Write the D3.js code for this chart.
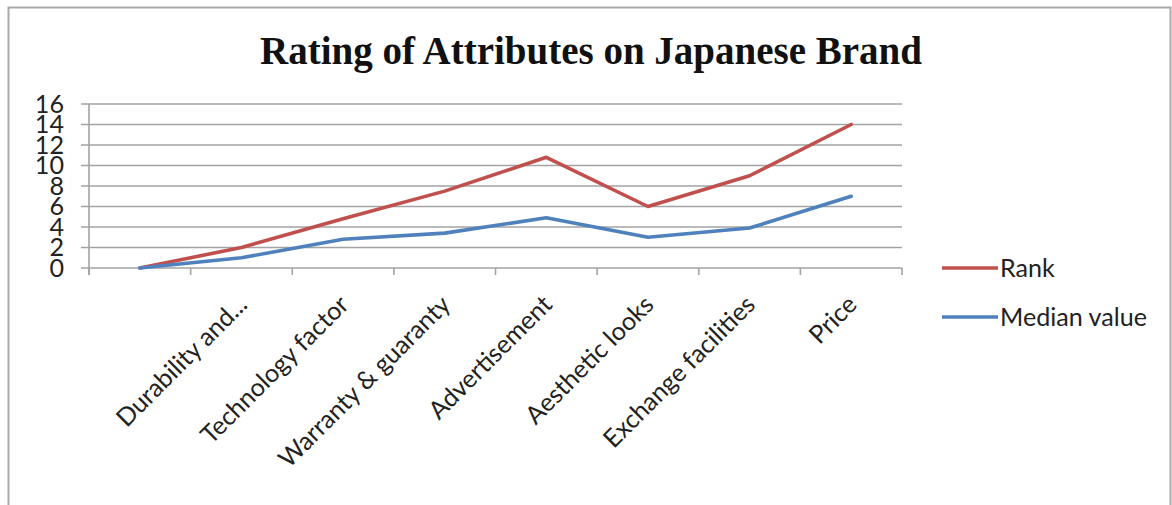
<!DOCTYPE html>
<html>
<head>
<meta charset="utf-8">
<script src="https://cdn.jsdelivr.net/npm/d3@7"></script>
<style>
    body { margin: 0; background: #fff; }
    svg { display: block; }
</style>
</head>
<body>
<svg id="vis" width="1172" height="505"></svg>
<script>
// chart data
const chartTitle = "Rating of Attributes on Japanese Brand";
const categories = ["", "Durability and...", "Technology factor", "Warranty & guaranty",
    "Advertisement", "Aesthetic looks", "Exchange facilities", "Price"];
const rankValues = [0, 2, 4.8, 7.5, 10.8, 6, 9, 14];
const medianValues = [0, 1, 2.8, 3.4, 4.9, 3, 3.9, 7];
const yTicks = [0, 2, 4, 6, 8, 10, 12, 14, 16];
const seriesNames = ["Rank", "Median value"];
const seriesColors = ["#c0504d", "#4f81bd"];

let svg = d3.select("#vis");
let width = 1172, height = 505;

let plot = {left: 89, right: 902, top: 104, bottom: 268};
let labelFont = "Lato, 'Open Sans', sans-serif";

// outer frame of the chart object
svg.append("rect")
    .attr("x", 8.5)
    .attr("y", 7.5)
    .attr("width", 1162)
    .attr("height", 520)
    .attr("fill", "#fff")
    .attr("stroke", "#a9a9a9")
    .attr("stroke-width", 2);

// title, fitted to the width it has in the picture
let title = svg.append("text")
    .attr("x", 591)
    .attr("y", 64)
    .attr("text-anchor", "middle")
    .attr("font-family", "'Liberation Serif', 'DejaVu Serif', serif")
    .attr("font-weight", "bold")
    .attr("font-size", 36)
    .attr("fill", "#111")
    .text(chartTitle);
let tw = title.node().getComputedTextLength();
title.attr("font-size", 36 * 662 / tw);

// pick a label size that matches the legend text width
let probe = svg.append("text")
    .attr("font-family", labelFont)
    .attr("font-size", 24)
    .text("Median value");
let labelSize = 24 * 147 / probe.node().getComputedTextLength();
probe.remove();

let x = d3.scaleBand()
    .domain(d3.range(categories.length))
    .range([plot.left, plot.right]);

let y = d3.scaleLinear()
    .domain([0, 16])
    .range([plot.bottom, plot.top]);

// horizontal gridlines (with the small outside tick)
svg.append("g")
    .selectAll("line")
    .data(yTicks)
    .enter()
    .append("line")
    .attr("x1", plot.left - 8)
    .attr("x2", plot.right)
    .attr("y1", d => y(d))
    .attr("y2", d => y(d))
    .attr("stroke", "#a3a3a3")
    .attr("stroke-width", 1.6);

// y axis line
svg.append("line")
    .attr("x1", plot.left)
    .attr("x2", plot.left)
    .attr("y1", plot.top)
    .attr("y2", plot.bottom + 7)
    .attr("stroke", "#a3a3a3")
    .attr("stroke-width", 1.6);

// y labels
svg.append("g")
    .selectAll("text")
    .data(yTicks)
    .enter()
    .append("text")
    .attr("x", 64)
    .attr("y", d => y(d))
    .attr("dy", "0.35em")
    .attr("text-anchor", "end")
    .attr("font-family", labelFont)
    .attr("font-size", labelSize)
    .attr("fill", "#222")
    .text(d => d);

// x axis ticks at category boundaries
let step = x.step();
svg.append("g")
    .selectAll("line")
    .data(d3.range(categories.length + 1))
    .enter()
    .append("line")
    .attr("x1", d => plot.left + d * step)
    .attr("x2", d => plot.left + d * step)
    .attr("y1", plot.bottom)
    .attr("y2", plot.bottom + 7)
    .attr("stroke", "#a3a3a3")
    .attr("stroke-width", 1.6);

// x labels, rotated 45 degrees
svg.append("g")
    .selectAll("text")
    .data(categories)
    .enter()
    .append("text")
    .attr("transform", (d, i) => "translate(" + (x(i) + x.bandwidth() / 2 + 1) + ",300) rotate(-45)")
    .attr("dy", "0.35em")
    .attr("text-anchor", "end")
    .attr("font-family", labelFont)
    .attr("font-size", labelSize)
    .attr("fill", "#222")
    .text(d => d);

// lines
let line = d3.line()
    .x((d, i) => x(i) + x.bandwidth() / 2)
    .y(d => y(d));

[rankValues, medianValues].forEach(function (vals, i) {
    svg.append("path")
        .attr("d", line(vals))
        .attr("fill", "none")
        .attr("stroke", seriesColors[i])
        .attr("stroke-width", 3.6)
        .attr("stroke-linejoin", "round")
        .attr("stroke-linecap", "round");
});

// legend
let legend = svg.append("g")
    .selectAll("g")
    .data(seriesNames)
    .enter()
    .append("g")
    .attr("transform", (d, i) => "translate(942," + (268 + i * 49) + ")");

legend.append("line")
    .attr("x1", 0)
    .attr("x2", 56)
    .attr("stroke", (d, i) => seriesColors[i])
    .attr("stroke-width", 3.6);

legend.append("text")
    .attr("x", 58)
    .attr("dy", "0.35em")
    .attr("font-family", labelFont)
    .attr("font-size", labelSize)
    .attr("fill", "#222")
    .text(d => d);
</script>
</body>
</html>
